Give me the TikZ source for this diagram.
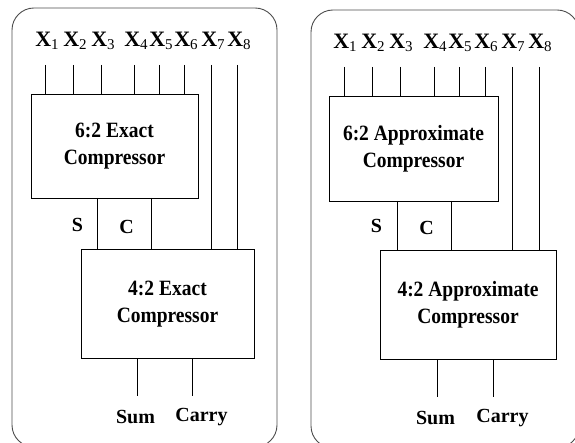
\documentclass[tikz,border=0pt]{standalone}
\usepackage{fontspec}
\setmainfont{Liberation Serif}
\usepackage{graphicx}
\newcommand\xlab[1]{\textbf{X}\raisebox{-0.3ex}{\fontsize{15}{15}\selectfont\mdseries #1}}
\newcommand\boxtext[1]{\scalebox{1}[1.12]{\begin{tabular}{@{}c@{}}#1\end{tabular}}}
\tikzset{
  panel/.style={draw=black!70, line width=0.9pt, rounded corners=22pt},
  comp/.style={draw, line width=0.8pt, inner sep=0pt, font=\fontsize{19.5}{24}\selectfont\bfseries},
  lab/.style={inner sep=0pt, font=\fontsize{20}{20}\selectfont\bfseries},
  xl/.style={inner sep=0pt, font=\fontsize{22}{22}\selectfont\bfseries},
  wire/.style={line width=0.7pt},
}
\begin{document}
\begin{tikzpicture}[x=1pt,y=-1pt]
\useasboundingbox (0,0) rectangle (575,443);
\begin{scope}
\clip (0,0) rectangle (575,443);
\draw[panel] (12,8) rectangle (277,447);
\draw[panel] (311,10) rectangle (579,448);
\end{scope}

% ---------- Left panel ----------
\node[comp, minimum width=167pt, minimum height=104pt] (e62) at (114.5,146) {\boxtext{6:2 Exact\\Compressor}};
\node[comp, minimum width=173pt, minimum height=109pt] (e42) at (167.5,303.5) {\boxtext{4:2 Exact\\Compressor}};
\foreach \i/\x in {1/45,2/73,3/101,4/134,5/159,6/184,7/211,8/237}{
  \node[xl] (lx\i) at (\x+2,41) {\xlab{\i}};
  \coordinate (lt\i) at (\x,65);
}
\foreach \i in {1,...,6}{ \draw[wire] (lt\i) -- (lt\i |- e62.north); }
\foreach \i in {7,8}{ \draw[wire] (lt\i) -- (lt\i |- e42.north); }
\coordinate (ls) at (97,198);
\coordinate (lc) at (151,198);
\draw[wire] (ls) -- (ls |- e42.north);
\draw[wire] (lc) -- (lc |- e42.north);
\node[lab] (lS) at (77.5,225) {S};
\node[lab] (lC) at (126.5,227) {C};
\coordinate (lsum) at (137,396);
\coordinate (lcar) at (192,396);
\draw[wire] (lsum |- e42.south) -- (lsum);
\draw[wire] (lcar |- e42.south) -- (lcar);
\node[lab] (lSum) at (135.5,417) {Sum};
\node[lab] (lCarry) at (201.5,417) {Carry};

% ---------- Right panel ----------
\node[comp, minimum width=169pt, minimum height=105pt] (a62) at (413.5,148.5) {\boxtext{6:2 Approximate\\Compressor}};
\node[comp, minimum width=176pt, minimum height=109pt] (a42) at (468,304.5) {\boxtext{4:2 Approximate\\Compressor}};
\foreach \i/\x in {1/344,2/372,3/400,4/434,5/459,6/485,7/512,8/539}{
  \node[xl] (rx\i) at (\x+1,43) {\xlab{\i}};
  \coordinate (rt\i) at (\x,67);
}
\foreach \i in {1,...,6}{ \draw[wire] (rt\i) -- (rt\i |- a62.north); }
\foreach \i in {7,8}{ \draw[wire] (rt\i) -- (rt\i |- a42.north); }
\coordinate (rs) at (397,201);
\coordinate (rc) at (451,201);
\draw[wire] (rs) -- (rs |- a42.north);
\draw[wire] (rc) -- (rc |- a42.north);
\node[lab] (rS) at (376.5,226) {S};
\node[lab] (rC) at (426.5,228) {C};
\coordinate (rsum) at (437,397);
\coordinate (rcar) at (493,397);
\draw[wire] (rsum |- a42.south) -- (rsum);
\draw[wire] (rcar |- a42.south) -- (rcar);
\node[lab] (rSum) at (435.5,418) {Sum};
\node[lab] (rCarry) at (502.5,418) {Carry};
\end{tikzpicture}
\end{document}
